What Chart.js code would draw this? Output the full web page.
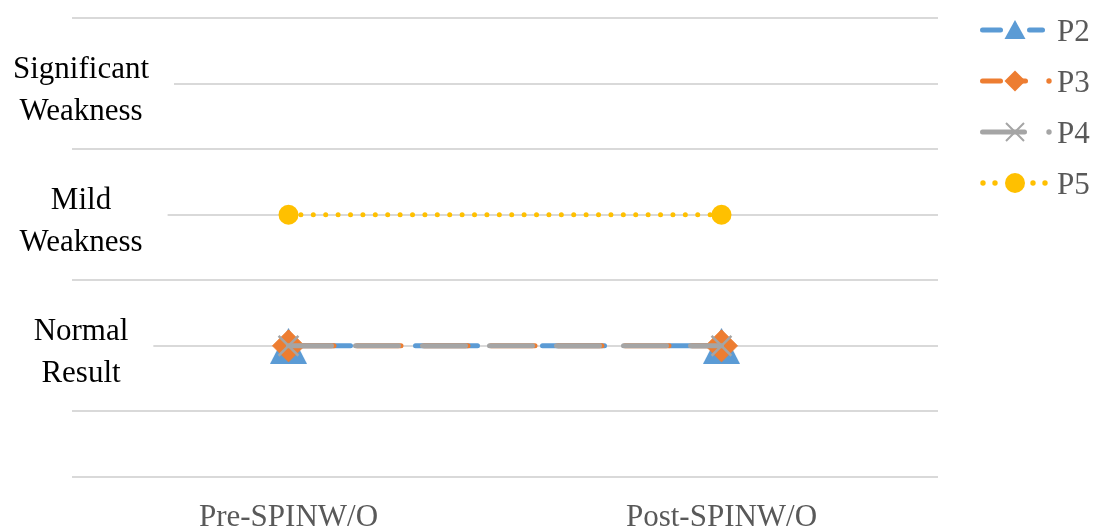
<!DOCTYPE html>
<html>
<head>
<meta charset="utf-8">
<script src="https://cdn.jsdelivr.net/npm/chart.js@4.4.1/dist/chart.umd.min.js"></script>
<style>
  html, body { margin: 0; padding: 0; background: #ffffff; }
  canvas { display: block; }
</style>
</head>
<body>
<canvas id="chart" width="1094" height="527"></canvas>
<script>
// ---- data ----
const categories = ['Pre-SPINW/O', 'Post-SPINW/O'];
const seriesNames = ['P2', 'P3', 'P4', 'P5'];
const p2Values = [1, 1];
const p3Values = [1, 1];
const p4Values = [1, 1];
const p5Values = [2, 2];

// rating scale: numeric level -> wording shown on the axis
const levelValues = [1, 2, 3];
const levelLabels = [['Normal', 'Result'], ['Mild', 'Weakness'], ['Significant', 'Weakness']];
const axisMin = 0;
const axisMax = 3.5;
const axisStep = 0.5;

// ---- styling ----
const FONT = '"Liberation Serif", "Times New Roman", serif';
const FONT_SIZE = 31;
const BLUE = '#5B9BD5', ORANGE = '#ED7D31', GRAY = '#A5A5A5', GOLD = '#FFC000';
const TEXT_GRAY = '#595959';
const PLOT_LEFT = 72, LABEL_CENTER = 81, LABEL_GAP = 25;

function levelIndex(v) {
  return levelValues.findIndex(x => Math.abs(x - v) < 1e-9);
}

// caption widths, used to centre the captions inside the plot
const measure = document.createElement('canvas').getContext('2d');
measure.font = FONT_SIZE + 'px ' + FONT;
const captionWidths = levelLabels.map(lines => Math.max(...lines.map(t => measure.measureText(t).width)));
const widest = Math.max(...captionWidths);
const yLabelPad = LABEL_CENTER - PLOT_LEFT - widest / 2;

// upright triangle marker centred on its box
function triangleMarker(color, w, h) {
  const c = document.createElement('canvas');
  c.width = w; c.height = h;
  const g = c.getContext('2d');
  g.fillStyle = color;
  g.beginPath();
  g.moveTo(w / 2, 0);
  g.lineTo(w, h);
  g.lineTo(0, h);
  g.closePath();
  g.fill();
  return c;
}

// white band behind each caption so the gridline starts just after the text
const captionBands = {
  id: 'captionBands',
  beforeDatasetsDraw(chart) {
    const ctx = chart.ctx;
    const y = chart.scales.y;
    ctx.save();
    ctx.fillStyle = '#ffffff';
    levelValues.forEach((v, i) => {
      const py = y.getPixelForValue(v);
      const right = LABEL_CENTER + captionWidths[i] / 2 + LABEL_GAP;
      ctx.fillRect(0, py - 4, right, 8);
    });
    ctx.restore();
  }
};

// ---- legend drawn at the right of the plot ----
const LEG = { top: 30, step: 51, xm: 1015, xt: 1057 };

function seg(ctx, a, b, y, w, color) {
  ctx.save();
  ctx.strokeStyle = color; ctx.lineWidth = w; ctx.lineCap = 'round';
  ctx.beginPath(); ctx.moveTo(a, y); ctx.lineTo(b, y); ctx.stroke();
  ctx.restore();
}
function dot(ctx, x, y, r, color) {
  ctx.save();
  ctx.fillStyle = color;
  ctx.beginPath(); ctx.arc(x, y, r, 0, Math.PI * 2); ctx.fill();
  ctx.restore();
}

const sideLegend = {
  id: 'sideLegend',
  afterDraw(chart) {
    const ctx = chart.ctx;
    chart.data.datasets.forEach((ds, i) => {
      const y = LEG.top + i * LEG.step;
      const c = ds.borderColor;
      const m = LEG.xm;
      if (ds.legendKind === 'triangle') {
        seg(ctx, 982.5, 1000.5, y, 5, c);
        seg(ctx, 1029.5, 1042.5, y, 5, c);
        ctx.save(); ctx.fillStyle = c;
        ctx.beginPath(); ctx.moveTo(m, y - 10); ctx.lineTo(m + 10.5, y + 9); ctx.lineTo(m - 10.5, y + 9);
        ctx.closePath(); ctx.fill(); ctx.restore();
      } else if (ds.legendKind === 'diamond') {
        seg(ctx, 982.5, 1000.5, y, 5, c);
        seg(ctx, m, 1025.5, y, 5, c);
        ctx.save(); ctx.fillStyle = c;
        ctx.beginPath(); ctx.moveTo(m, y - 10.5); ctx.lineTo(m + 10.5, y); ctx.lineTo(m, y + 10.5); ctx.lineTo(m - 10.5, y);
        ctx.closePath(); ctx.fill(); ctx.restore();
        dot(ctx, 1049, y, 2.7, c);
      } else if (ds.legendKind === 'cross') {
        seg(ctx, 982.5, 1024.5, y, 5, c);
        ctx.save(); ctx.strokeStyle = c; ctx.lineWidth = 2;
        ctx.beginPath();
        ctx.moveTo(m - 9, y - 9); ctx.lineTo(m + 9, y + 9);
        ctx.moveTo(m + 9, y - 9); ctx.lineTo(m - 9, y + 9);
        ctx.stroke(); ctx.restore();
        dot(ctx, 1049, y, 2.7, c);
      } else {
        [983, 995, 1033, 1045].forEach(x => dot(ctx, x, y, 2.7, c));
        dot(ctx, m, y, 10, c);
      }
      ctx.save();
      ctx.fillStyle = TEXT_GRAY;
      ctx.font = FONT_SIZE + 'px ' + FONT;
      ctx.textAlign = 'left';
      ctx.textBaseline = 'alphabetic';
      ctx.fillText(ds.label, LEG.xt, y + 10.5);
      ctx.restore();
    });
  }
};

new Chart(document.getElementById('chart'), {
  type: 'line',
  data: {
    labels: categories,
    datasets: [
      {
        label: seriesNames[0], data: p2Values, legendKind: 'triangle', order: 3,
        borderColor: BLUE, backgroundColor: BLUE, borderWidth: 5,
        borderDash: [62, 65], borderCapStyle: 'round',
        pointStyle: triangleMarker(BLUE, 37, 36), pointRadius: 18
      },
      {
        label: seriesNames[1], data: p3Values, legendKind: 'diamond', order: 2,
        borderColor: ORANGE, backgroundColor: ORANGE, borderWidth: 5,
        borderDash: [44, 23], borderDashOffset: -1.5, borderCapStyle: 'round',
        pointStyle: 'rectRot', pointRadius: 16, pointBorderWidth: 1,
        pointBackgroundColor: ORANGE, pointBorderColor: ORANGE
      },
      {
        label: seriesNames[2], data: p4Values, legendKind: 'cross', order: 1,
        borderColor: GRAY, backgroundColor: GRAY, borderWidth: 5,
        borderDash: [43, 24], borderCapStyle: 'round',
        pointStyle: 'crossRot', pointRadius: 14, pointBorderWidth: 2.5,
        pointBorderColor: GRAY
      },
      {
        label: seriesNames[3], data: p5Values, legendKind: 'circle', order: 0,
        borderColor: GOLD, backgroundColor: GOLD, borderWidth: 5,
        borderDash: [0.001, 12.4], borderCapStyle: 'round',
        pointStyle: 'circle', pointRadius: 10, pointBorderWidth: 0,
        pointBackgroundColor: GOLD
      }
    ]
  },
  options: {
    responsive: false,
    animation: false,
    events: [],
    devicePixelRatio: 1,
    layout: { autoPadding: false, padding: { left: PLOT_LEFT, right: 156, top: 18, bottom: 0 } },
    plugins: { legend: { display: false }, tooltip: { enabled: false } },
    scales: {
      x: {
        type: 'category',
        offset: true,
        grid: { display: false, drawTicks: false },
        border: { display: false },
        ticks: {
          color: TEXT_GRAY,
          font: { family: FONT, size: FONT_SIZE, lineHeight: 1.2 },
          padding: 22, maxRotation: 0, autoSkip: false
        },
        afterFit(s) { s.height = 50; }
      },
      y: {
        type: 'linear',
        min: axisMin, max: axisMax,
        grid: { color: '#D9D9D9', lineWidth: 2, drawTicks: false },
        border: { display: false },
        ticks: {
          z: 1,
          stepSize: axisStep,
          autoSkip: false,
          mirror: true,
          crossAlign: 'center',
          padding: yLabelPad,
          labelOffset: 7,
          color: '#000000',
          font: c => ({
            family: FONT, size: FONT_SIZE,
            lineHeight: (c.tick && levelIndex(c.tick.value) >= 0) ? 1.35 : 0.2
          }),
          callback: v => {
            const i = levelIndex(v);
            return i >= 0 ? levelLabels[i] : '';
          }
        },
        afterFit(s) { s.width = 0; }
      }
    }
  },
  plugins: [captionBands, sideLegend]
});
</script>
</body>
</html>
